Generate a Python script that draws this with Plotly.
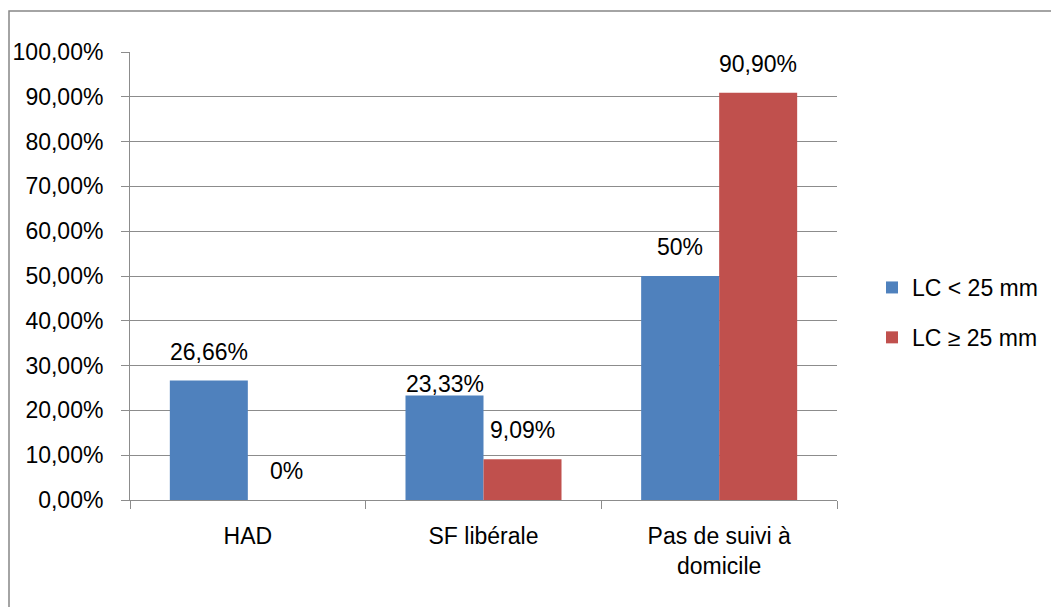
import plotly.graph_objects as go

categories = ["HAD", "SF libérale", "Pas de suivi à<br>domicile"]
series_names = ["LC < 25 mm", "LC ≥ 25 mm"]
lc_small = [26.66, 23.33, 50.0]
lc_large = [0.0, 9.09, 90.90]
labels_small = ["26,66%", "23,33%", "50%"]
labels_large = ["0%", "9,09%", "90,90%"]
y_ticks = [0, 10, 20, 30, 40, 50, 60, 70, 80, 90, 100]
y_tick_text = [f"{v:.2f}".replace(".", ",") + "%" for v in y_ticks]

BLUE = "#4F81BD"
RED = "#C0504D"
GRID = "#8C8C8C"
FONT = "Liberation Sans"
FS = 23

fig = go.Figure()
fig.add_trace(go.Bar(x=categories, y=lc_small, name=series_names[0],
                     marker=dict(color=BLUE, line=dict(width=0)), legendgroup="a"))
fig.add_trace(go.Bar(x=categories, y=lc_large, name=series_names[1],
                     marker=dict(color=RED, line=dict(width=0)), legendgroup="b"))

# data labels
lift_small = [14, -4, 14]
lift_large = [14, 14, 14]
for cat, v, t, l in zip(categories, lc_small, labels_small, lift_small):
    fig.add_annotation(x=cat, y=v, text=t, xshift=-39, yshift=l, yanchor="bottom",
                       showarrow=False, font=dict(family=FONT, size=FS, color="black"))
for cat, v, t, l in zip(categories, lc_large, labels_large, lift_large):
    fig.add_annotation(x=cat, y=v, text=t, xshift=39, yshift=l, yanchor="bottom",
                       showarrow=False, font=dict(family=FONT, size=FS, color="black"))

# page has an 8px body margin; figure coordinates below are page minus 8
W, H = 1051, 599
L, R, T, B = 122, 829, 44, 492
pw, ph = R - L, B - T
fig.add_shape(type="rect", xref="paper", yref="paper",
              x0=(1 - L) / pw, x1=(1075 - L) / pw,
              y0=(B - 625) / ph, y1=(B - 3) / ph,
              line=dict(color="#878787", width=1.5), fillcolor="rgba(0,0,0,0)")

fig.update_layout(
    width=W, height=H,
    margin=dict(l=L, r=W - R, t=T, b=H - B, autoexpand=False),
    paper_bgcolor="white", plot_bgcolor="white",
    barmode="group", bargap=0.338, bargroupgap=0,
    font=dict(family=FONT, size=FS, color="black"),
    legend=dict(xref="container", yref="container", x=864 / W, y=1 - 258 / H,
                xanchor="left", yanchor="top", tracegroupgap=17,
                font=dict(family=FONT, size=FS, color="black"), bgcolor="rgba(0,0,0,0)"),
    showlegend=True,
)
fig.update_xaxes(type="category", automargin=False, showline=True, linecolor=GRID, linewidth=1,
                 ticks="outside", tickson="boundaries", ticklen=8, tickcolor=GRID,
                 showgrid=False, ticklabelstandoff=15,
                 tickfont=dict(family=FONT, size=FS, color="black"))
fig.update_yaxes(range=[0, 100], automargin=False, tickvals=y_ticks, ticktext=y_tick_text,
                 showline=True, linecolor=GRID, linewidth=1,
                 ticks="outside", ticklen=8, tickcolor=GRID,
                 showgrid=True, gridcolor=GRID, gridwidth=1, zeroline=False,
                 ticklabelstandoff=13,
                 tickfont=dict(family=FONT, size=FS, color="black"))

fig.write_html("out.html")
